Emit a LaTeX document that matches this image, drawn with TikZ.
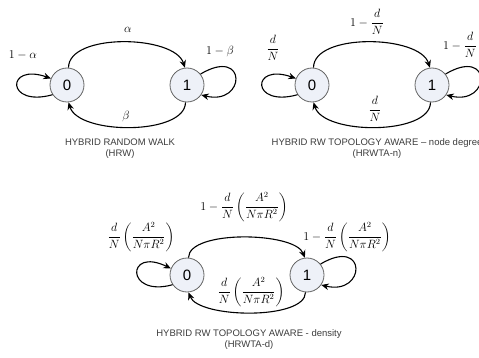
\documentclass[tikz,border=0pt]{standalone}
\usepackage{amsmath}
\usepackage{fontspec}
\newfontfamily\capfont[Ligatures=TeX]{Liberation Sans}
\usetikzlibrary{arrows.meta}
\definecolor{statefill}{RGB}{238,241,248}
\definecolor{stateline}{RGB}{100,100,100}
\definecolor{captext}{RGB}{60,60,60}
\tikzset{
  mstate/.style={circle, draw=stateline, fill=statefill, line width=0.8pt,
                 minimum size=34pt, inner sep=0pt,
                 font=\capfont\fontsize{15}{15}\selectfont},
  mdir/.style  ={-{Stealth[length=7.5pt,width=6.5pt]}, line width=1.1pt, black},
  mlabel/.style={inner sep=0pt, font=\fontsize{12}{14}\selectfont},
  mcap/.style  ={align=center, text=captext, inner sep=0pt,
                 font=\capfont\fontsize{9.5}{11}\selectfont},
}
\begin{document}
\begin{tikzpicture}[x=1pt, y=-1pt]
  \useasboundingbox (0,0) rectangle (479,358);
  \clip (0,0) rectangle (479,358);

  % ---- HRW: plain hybrid random walk --------------------------------------
  \begin{scope}[shift={(67,85)}]
    \node[mstate] (a0) at (0,0)   {0};
    \node[mstate] (a1) at (120,0) {1};
    \draw[mdir] (a0.85)  .. controls +(0,-35) and +(-10,-33) .. (a1.97);
    \draw[mdir] (a1.265) .. controls +(0,33)  and +(10,33)   .. (a0.275);
    \draw[mdir] (a0.214) .. controls +(-47,13) and +(-45,-16) .. (a0.158);
    \draw[mdir] (a1.39)  .. controls +(47,-28) and +(45,11)   .. (a1.325);
    \node[mlabel] (la01) at (61,-55)  {$\alpha$};
    \node[mlabel] (la00) at (-44,-30) {$1-\alpha$};
    \node[mlabel] (la11) at (153,-33) {$1-\beta$};
    \node[mlabel] (la10) at (59,32)   {$\beta$};
    \node[mcap]   (capa) at (53,63.5) {HYBRID RANDOM WALK\\(HRW)};
  \end{scope}

  % ---- HRWTA-n: node degree -----------------------------------------------
  \begin{scope}[shift={(312,85)}]
    \node[mstate] (b0) at (0,0)   {0};
    \node[mstate] (b1) at (120,0) {1};
    \draw[mdir] (b0.85)  .. controls +(0,-35) and +(-10,-33) .. (b1.97);
    \draw[mdir] (b1.265) .. controls +(0,33)  and +(10,33)   .. (b0.275);
    \draw[mdir] (b0.214) .. controls +(-47,13) and +(-45,-16) .. (b0.158);
    \draw[mdir] (b1.39)  .. controls +(47,-28) and +(45,11)   .. (b1.325);
    \node[mlabel] (lb00) at (-39,-37) {$\dfrac{d}{N}$};
    \node[mlabel] (lb01) at (55,-63)  {$1-\dfrac{d}{N}$};
    \node[mlabel] (lb11) at (148,-40) {$1-\dfrac{d}{N}$};
    \node[mlabel] (lb10) at (63,24)   {$\dfrac{d}{N}$};
    \node[mcap]   (capb) at (65,63.5) {HYBRID RW TOPOLOGY AWARE \textendash{} node degree\\(HRWTA-n)};
  \end{scope}

  % ---- HRWTA-d: density ---------------------------------------------------
  \begin{scope}[shift={(187,275)}]
    \node[mstate] (c0) at (0,0)   {0};
    \node[mstate] (c1) at (120,0) {1};
    \draw[mdir] (c0.85)  .. controls +(0,-28) and +(-10,-26) .. (c1.97);
    \draw[mdir] (c1.265) .. controls +(0,28)  and +(10,26)   .. (c0.275);
    \draw[mdir] (c0.214) .. controls +(-47,13) and +(-45,-22) .. (c0.158);
    \draw[mdir] (c1.39)  .. controls +(47,-28) and +(45,11)   .. (c1.325);
    \node[mlabel] (lc00) at (-46,-38) {$\dfrac{d}{N}\left(\dfrac{A^2}{N\pi R^2}\right)$};
    \node[mlabel] (lc01) at (57,-68)  {$1-\dfrac{d}{N}\left(\dfrac{A^2}{N\pi R^2}\right)$};
    \node[mlabel] (lc11) at (160,-38) {$1-\dfrac{d}{N}\left(\dfrac{A^2}{N\pi R^2}\right)$};
    \node[mlabel] (lc10) at (64,17)   {$\dfrac{d}{N}\left(\dfrac{A^2}{N\pi R^2}\right)$};
    \node[mcap]   (capc) at (62,65)   {HYBRID RW TOPOLOGY AWARE - density\\(HRWTA-d)};
  \end{scope}
\end{tikzpicture}
\end{document}
